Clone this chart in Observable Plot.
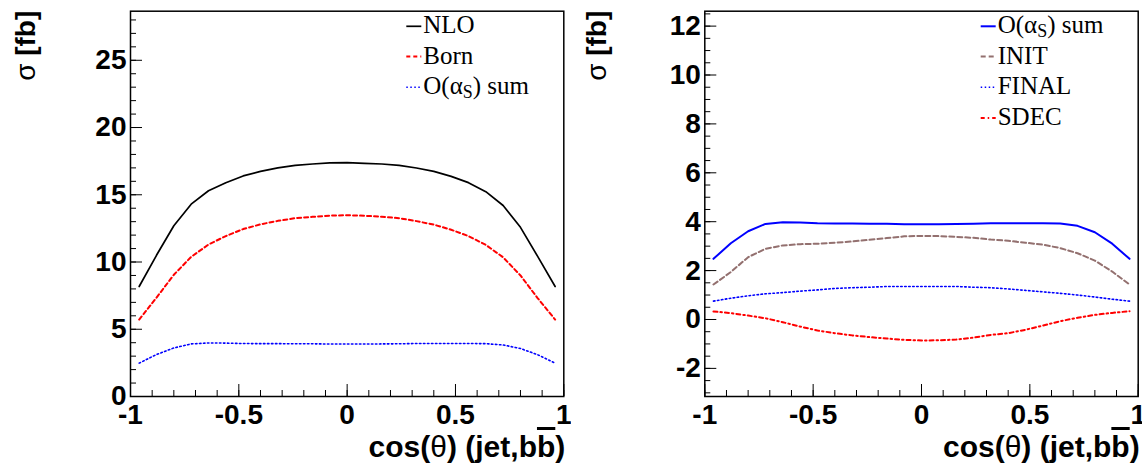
<!DOCTYPE html>
<html><head><meta charset="utf-8">
<script src="https://cdn.jsdelivr.net/npm/d3@7"></script>
<script src="https://cdn.jsdelivr.net/npm/@observablehq/plot@0.6"></script>
<style>
html,body{margin:0;padding:0;background:#fff;}
#wrap{display:flex;width:1142px;height:471px;overflow:hidden;}
</style></head><body><div id="wrap"></div>
<script>
// bin centres of cos(theta)
const cosTheta = [-0.96,-0.88,-0.80,-0.72,-0.64,-0.56,-0.48,-0.40,-0.32,-0.24,-0.16,-0.08,0,0.08,0.16,0.24,0.32,0.40,0.48,0.56,0.64,0.72,0.80,0.88,0.96];
// left panel
const nlo  = [8.18,10.5,12.7,14.3,15.3,15.9,16.4,16.74,17.0,17.19,17.29,17.37,17.39,17.34,17.29,17.19,16.99,16.74,16.37,15.9,15.23,14.2,12.58,10.4,8.18];
const born = [5.72,7.35,9.05,10.38,11.3,11.93,12.45,12.8,13.06,13.26,13.36,13.45,13.48,13.44,13.37,13.26,13.04,12.78,12.4,11.93,11.27,10.35,9.0,7.3,5.72];
const asSum = [2.48,3.12,3.61,3.91,3.98,3.97,3.94,3.93,3.93,3.92,3.92,3.90,3.90,3.90,3.91,3.92,3.94,3.94,3.94,3.94,3.93,3.83,3.57,3.10,2.48];
// right panel
const init  = [1.43,1.94,2.55,2.89,3.03,3.08,3.10,3.14,3.19,3.26,3.33,3.40,3.42,3.41,3.38,3.34,3.27,3.22,3.14,3.06,2.92,2.71,2.41,1.96,1.43];
const finalS = [0.75,0.87,0.97,1.05,1.10,1.16,1.21,1.27,1.30,1.32,1.35,1.35,1.35,1.35,1.35,1.32,1.30,1.25,1.19,1.13,1.07,1.00,0.92,0.83,0.75];
const sdec  = [0.33,0.26,0.16,0.05,-0.11,-0.29,-0.45,-0.56,-0.65,-0.72,-0.78,-0.83,-0.86,-0.85,-0.82,-0.74,-0.63,-0.56,-0.42,-0.25,-0.07,0.07,0.19,0.27,0.34];
// axes
const xMajor = [-1,-0.5,0,0.5,1];
const leftYMajor = [0,5,10,15,20,25];
const rightYMajor = [-2,0,2,4,6,8,10,12];

const rows = ys => cosTheta.map((x,i)=>({x, y: ys[i]}));
const fmt = d => String(d);
const SANS = "Liberation Sans, Arial, sans-serif";
const SERIF = "Liberation Serif, Times New Roman, serif";

function panel({marginLeft, marginRight, yDomain, yMajor, yMinorStep, series, legend}) {
  const W = 571, H = 471, MT = 10.7, MB = 75;
  const yMinor = d3.range(Math.ceil(yDomain[0]/yMinorStep)*yMinorStep, yDomain[1], yMinorStep).map(v=>+v.toFixed(3));
  const xMinor = d3.range(-10, 11).map(v => v/10);
  const svg = Plot.plot({
    width: W, height: H, marginLeft, marginRight, marginTop: MT, marginBottom: MB,
    x: {domain: [-1, 1]},
    y: {domain: yDomain},
    style: {fontFamily: SANS, background: "white", overflow: "visible"},
    marks: [
      ...series.map(s => Plot.line(rows(s.values), {x:"x", y:"y", stroke:s.color, strokeWidth:s.width, strokeDasharray:s.dash})),
      Plot.axisX(xMinor, {anchor:"bottom", tickSize:-6, fill:"none", stroke:"black", label:null}),
      Plot.axisX(xMajor, {anchor:"bottom", tickSize:-12, fill:"none", stroke:"black", label:null}),
      Plot.axisX(xMajor, {anchor:"bottom", tickSize:0, tickPadding:8, tickFormat:fmt, fontSize:28, fontWeight:"bold", fill:"black", label:null}),
      Plot.axisY(yMinor, {anchor:"left", tickSize:-6, fill:"none", stroke:"black", label:null}),
      Plot.axisY(yMajor, {anchor:"left", tickSize:-12, fill:"none", stroke:"black", label:null}),
      Plot.axisY(yMajor, {anchor:"left", tickSize:0, tickPadding:4, tickFormat:fmt, fontSize:28, fontWeight:"bold", fill:"black", label:null}),
      Plot.frame({stroke:"black", strokeWidth:1.5})
    ]
  });
  const g = d3.select(svg);
  const fr = W - marginRight;
  // y title
  const yt = g.append("text").attr("transform", `translate(35,${MT}) rotate(-90)`)
    .attr("text-anchor","end").attr("font-family",SANS).attr("font-size",28).attr("font-weight","bold").attr("fill","black");
  yt.append("tspan").attr("font-weight","normal").text("σ");
  yt.append("tspan").text(" [fb]");
  // x title
  const xt = g.append("text").attr("x", Math.min(fr + 2, W - 1)).attr("y", 457).attr("text-anchor","end")
    .attr("font-family",SANS).attr("font-size",30).attr("font-weight","bold").attr("fill","black");
  xt.append("tspan").text("cos(");
  xt.append("tspan").attr("font-weight","normal").text("θ");
  xt.append("tspan").text(") (jet,b");
  xt.append("tspan").style("text-decoration","overline").text("b");
  xt.append("tspan").text(")");
  // legend
  const baselines = [33.3, 63.5, 94.3, 125];
  legend.forEach((e, i) => {
    const b = baselines[i];
    g.append("line").attr("x1", fr-157).attr("x2", fr-142).attr("y1", b-7).attr("y2", b-7)
      .attr("stroke", e.color).attr("stroke-width", e.width).attr("stroke-dasharray", e.dash || null);
    const t = g.append("text").attr("x", fr-140).attr("y", b).attr("text-anchor","start")
      .attr("font-family",SERIF).attr("font-size",25).attr("fill","black");
    if (e.sub) {
      t.append("tspan").text(e.label[0]);
      t.append("tspan").attr("font-size",18).attr("dy",4).text(e.sub);
      t.append("tspan").attr("dy",-4).text(e.label[1]);
    } else t.text(e.label);
  });
  return svg;
}

const RED = "#ff0000", BLUE = "#0000ff", BLACK = "#000000", BROWN = "#93706f";
const DASH = "4,3", DOT = "1.5,2.5", DASHDOT = "4,3,1.5,3";

const left = panel({
  marginLeft: 130, marginRight: 7.7, yDomain: [0, 28.65], yMajor: leftYMajor, yMinorStep: 1,
  series: [
    {values: nlo, color: BLACK, width: 1.7},
    {values: born, color: RED, width: 2, dash: DASH},
    {values: asSum, color: BLUE, width: 1.6, dash: DOT}
  ],
  legend: [
    {label: "NLO", color: BLACK, width: 1.7},
    {label: "Born", color: RED, width: 2, dash: DASH},
    {label: ["O(α", ") sum"], sub: "S", color: BLUE, width: 1.6, dash: DOT}
  ]
});
const right = panel({
  marginLeft: 133.3, marginRight: 4.3, yDomain: [-3.15, 12.61], yMajor: rightYMajor, yMinorStep: 0.5,
  series: [
    {values: asSum, color: BLUE, width: 2},
    {values: init, color: BROWN, width: 2, dash: "5,3"},
    {values: finalS, color: BLUE, width: 1.6, dash: DOT},
    {values: sdec, color: RED, width: 2, dash: DASHDOT}
  ],
  legend: [
    {label: ["O(α", ") sum"], sub: "S", color: BLUE, width: 2},
    {label: "INIT", color: BROWN, width: 2, dash: "5,3"},
    {label: "FINAL", color: BLUE, width: 1.6, dash: DOT},
    {label: "SDEC", color: RED, width: 2, dash: DASHDOT}
  ]
});
document.getElementById("wrap").append(left, right);
</script>
</body></html>
